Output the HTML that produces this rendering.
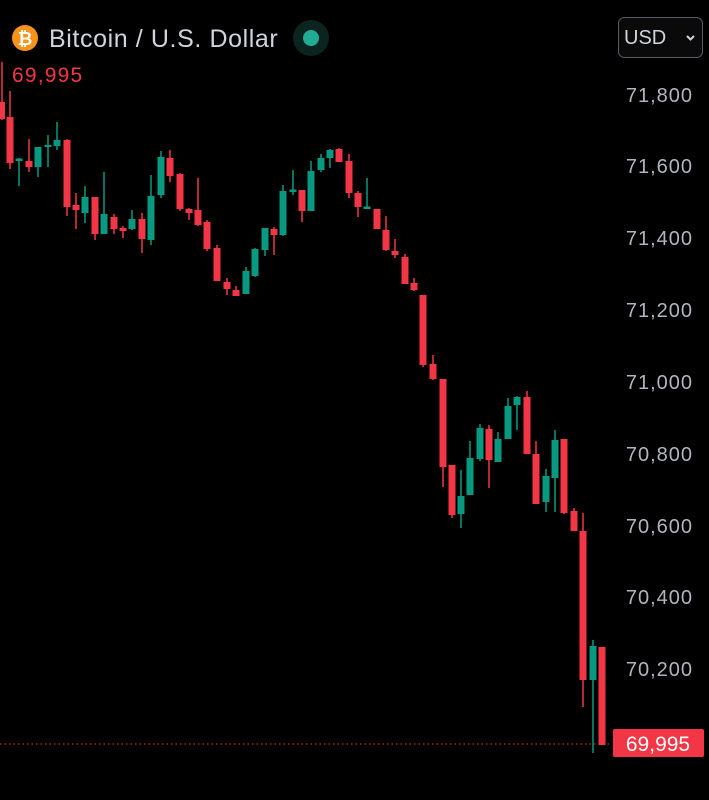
<!DOCTYPE html>
<html><head><meta charset="utf-8"><style>
html,body{margin:0;padding:0;background:#000;width:709px;height:800px;overflow:hidden;font-family:"Liberation Sans",sans-serif}
</style></head><body>
<svg width="709" height="800" viewBox="0 0 709 800" xmlns="http://www.w3.org/2000/svg" style="display:block">
<rect width="709" height="800" fill="#000"/>
<!-- header -->
<circle cx="25" cy="38" r="13" fill="#f7931a"/>
<text x="25" y="45" font-size="18" font-weight="bold" fill="#fff" text-anchor="middle" font-family="Liberation Sans, sans-serif">₿</text>
<text x="49" y="47" font-size="25" fill="#d1d4dc" letter-spacing="0.6" font-family="Liberation Sans, sans-serif">Bitcoin / U.S. Dollar</text>
<circle cx="311" cy="38" r="18" fill="#0c2420"/>
<circle cx="311" cy="38" r="8" fill="#22ab94"/>
<rect x="618.5" y="17.5" width="84" height="40" rx="6" fill="#0a0a0a" stroke="#5a5d66"/>
<text x="624" y="44" font-size="20" fill="#d1d4dc">USD</text>
<path d="M687 36 l3.5 3.5 l3.5 -3.5" stroke="#d1d4dc" stroke-width="2" fill="none"/>
<!-- top-left price -->
<text x="12" y="82" font-size="21" fill="#f23645" letter-spacing="1.2">69,995</text>
<!-- axis labels -->
<g font-size="20" fill="#b2b5be" text-anchor="end" letter-spacing="1">
<text x="693" y="102">71,800</text>
<text x="693" y="173">71,600</text>
<text x="693" y="245">71,400</text>
<text x="693" y="317">71,200</text>
<text x="693" y="389">71,000</text>
<text x="693" y="461">70,800</text>
<text x="693" y="533">70,600</text>
<text x="693" y="604">70,400</text>
<text x="693" y="676">70,200</text>
</g>
<line x1="0" y1="744" x2="612" y2="744" stroke="#f23645" stroke-width="1" stroke-dasharray="1.5 3"/>
<rect x="613" y="729" width="91" height="28" rx="2" fill="#f23645"/>
<text x="658" y="751" font-size="21" fill="#fff" text-anchor="middle">69,995</text>
<!-- red candles -->
<g fill="#f23645" stroke="#f23645" stroke-width="1.5">
<line x1="2" y1="62" x2="2" y2="120"/><rect x="-2" y="102" width="7" height="17" stroke="none"/>
<line x1="10" y1="91" x2="10" y2="169"/><rect x="6.5" y="117" width="7" height="46" stroke="none"/>
<line x1="29" y1="139" x2="29" y2="172"/><rect x="25.5" y="161" width="7" height="6" stroke="none"/>
<line x1="67" y1="139" x2="67" y2="216"/><rect x="63.5" y="140" width="7" height="67" stroke="none"/>
<line x1="76" y1="193" x2="76" y2="229"/><rect x="72.5" y="205" width="7" height="5" stroke="none"/>
<line x1="95" y1="197" x2="95" y2="240"/><rect x="91.5" y="197" width="7" height="37" stroke="none"/>
<line x1="114" y1="214" x2="114" y2="234"/><rect x="110.5" y="217" width="7" height="12" stroke="none"/>
<line x1="123" y1="226" x2="123" y2="238"/><rect x="119.5" y="228" width="7" height="3" stroke="none"/>
<line x1="142" y1="213" x2="142" y2="253"/><rect x="138.5" y="219" width="7" height="20" stroke="none"/>
<line x1="170" y1="150" x2="170" y2="182"/><rect x="166.5" y="158" width="7" height="18" stroke="none"/>
<line x1="180" y1="173" x2="180" y2="211"/><rect x="176.5" y="174" width="7" height="35" stroke="none"/>
<line x1="189" y1="208" x2="189" y2="220"/><rect x="185.5" y="209" width="7" height="4" stroke="none"/>
<line x1="198" y1="178" x2="198" y2="226"/><rect x="194.5" y="210" width="7" height="15" stroke="none"/>
<line x1="207" y1="220" x2="207" y2="251"/><rect x="203.5" y="222" width="7" height="27" stroke="none"/>
<line x1="217" y1="245" x2="217" y2="281"/><rect x="213.5" y="248" width="7" height="33" stroke="none"/>
<line x1="227" y1="278" x2="227" y2="295"/><rect x="223.5" y="282" width="7" height="7" stroke="none"/>
<line x1="236" y1="286" x2="236" y2="296"/><rect x="232.5" y="290" width="7" height="6" stroke="none"/>
<line x1="274" y1="227" x2="274" y2="255"/><rect x="270.5" y="229" width="7" height="6" stroke="none"/>
<line x1="302" y1="190" x2="302" y2="222"/><rect x="298.5" y="190" width="7" height="21" stroke="none"/>
<line x1="339" y1="148" x2="339" y2="162"/><rect x="335.5" y="149" width="7" height="13" stroke="none"/>
<line x1="349" y1="154" x2="349" y2="198"/><rect x="345.5" y="161" width="7" height="32" stroke="none"/>
<line x1="358" y1="191" x2="358" y2="217"/><rect x="354.5" y="193" width="7" height="14" stroke="none"/>
<line x1="377" y1="209" x2="377" y2="229"/><rect x="373.5" y="209" width="7" height="20" stroke="none"/>
<line x1="386" y1="216" x2="386" y2="251"/><rect x="382.5" y="230" width="7" height="20" stroke="none"/>
<line x1="395" y1="239" x2="395" y2="258"/><rect x="391.5" y="251" width="7" height="4" stroke="none"/>
<line x1="405" y1="254" x2="405" y2="284"/><rect x="401.5" y="257" width="7" height="27" stroke="none"/>
<line x1="414" y1="278" x2="414" y2="291"/><rect x="410.5" y="283" width="7" height="7" stroke="none"/>
<line x1="423" y1="295" x2="423" y2="367"/><rect x="419.5" y="295" width="7" height="70" stroke="none"/>
<line x1="433" y1="355" x2="433" y2="380"/><rect x="429.5" y="364" width="7" height="15" stroke="none"/>
<line x1="443" y1="379" x2="443" y2="487"/><rect x="439.5" y="379" width="7" height="88" stroke="none"/>
<line x1="452" y1="465" x2="452" y2="518"/><rect x="448.5" y="465" width="7" height="50" stroke="none"/>
<line x1="489" y1="425" x2="489" y2="488"/><rect x="485.5" y="429" width="7" height="31" stroke="none"/>
<line x1="527" y1="391" x2="527" y2="454"/><rect x="523.5" y="397" width="7" height="57" stroke="none"/>
<line x1="536" y1="441" x2="536" y2="504"/><rect x="532.5" y="454" width="7" height="50" stroke="none"/>
<line x1="564" y1="439" x2="564" y2="514"/><rect x="560.5" y="439" width="7" height="74" stroke="none"/>
<line x1="574" y1="508" x2="574" y2="531"/><rect x="570.5" y="511" width="7" height="20" stroke="none"/>
<line x1="583" y1="513" x2="583" y2="707"/><rect x="579.5" y="531" width="7" height="149" stroke="none"/>
<line x1="602" y1="647" x2="602" y2="745"/><rect x="598.5" y="647" width="7" height="98" stroke="none"/>
</g>
<!-- green candles -->
<g fill="#089981" stroke="#089981" stroke-width="1.5">
<line x1="19" y1="158" x2="19" y2="186"/><rect x="15.5" y="158.5" width="7" height="2.5" stroke="none"/>
<line x1="38" y1="147" x2="38" y2="177"/><rect x="34.5" y="147" width="7" height="20" stroke="none"/>
<line x1="48" y1="135" x2="48" y2="167"/><rect x="44.5" y="145" width="7" height="2" stroke="none"/>
<line x1="57" y1="122" x2="57" y2="150"/><rect x="53.5" y="140" width="7" height="6" stroke="none"/>
<line x1="85" y1="186" x2="85" y2="223"/><rect x="81.5" y="197" width="7" height="16" stroke="none"/>
<line x1="104" y1="172" x2="104" y2="234"/><rect x="100.5" y="214" width="7" height="20" stroke="none"/>
<line x1="132" y1="210" x2="132" y2="230"/><rect x="128.5" y="219" width="7" height="10" stroke="none"/>
<line x1="151" y1="175" x2="151" y2="245"/><rect x="147.5" y="196" width="7" height="44" stroke="none"/>
<line x1="161" y1="151" x2="161" y2="198"/><rect x="157.5" y="157" width="7" height="38" stroke="none"/>
<line x1="246" y1="267" x2="246" y2="294"/><rect x="242.5" y="271" width="7" height="23" stroke="none"/>
<line x1="255" y1="248" x2="255" y2="277"/><rect x="251.5" y="249" width="7" height="27" stroke="none"/>
<line x1="265" y1="228" x2="265" y2="256"/><rect x="261.5" y="228" width="7" height="22" stroke="none"/>
<line x1="283" y1="185" x2="283" y2="236"/><rect x="279.5" y="191" width="7" height="44" stroke="none"/>
<line x1="293" y1="170" x2="293" y2="195"/><rect x="289.5" y="189.5" width="7" height="2.5" stroke="none"/>
<line x1="311" y1="161" x2="311" y2="211"/><rect x="307.5" y="171" width="7" height="40" stroke="none"/>
<line x1="321" y1="154" x2="321" y2="172"/><rect x="317.5" y="158" width="7" height="12" stroke="none"/>
<line x1="330" y1="149" x2="330" y2="168"/><rect x="326.5" y="150" width="7" height="8" stroke="none"/>
<line x1="367" y1="178" x2="367" y2="209"/><rect x="363.5" y="206.5" width="7" height="2.5" stroke="none"/>
<line x1="461" y1="470" x2="461" y2="528"/><rect x="457.5" y="496" width="7" height="18" stroke="none"/>
<line x1="470" y1="441" x2="470" y2="495"/><rect x="466.5" y="458" width="7" height="37" stroke="none"/>
<line x1="480" y1="424" x2="480" y2="461"/><rect x="476.5" y="428" width="7" height="31" stroke="none"/>
<line x1="498" y1="432" x2="498" y2="462"/><rect x="494.5" y="439" width="7" height="23" stroke="none"/>
<line x1="508" y1="398" x2="508" y2="439"/><rect x="504.5" y="406" width="7" height="33" stroke="none"/>
<line x1="517" y1="396" x2="517" y2="430"/><rect x="513.5" y="397" width="7" height="8" stroke="none"/>
<line x1="546" y1="469" x2="546" y2="512"/><rect x="542.5" y="476" width="7" height="26" stroke="none"/>
<line x1="555" y1="430" x2="555" y2="512"/><rect x="551.5" y="440" width="7" height="38" stroke="none"/>
<line x1="593" y1="640" x2="593" y2="753"/><rect x="589.5" y="646" width="7" height="34" stroke="none"/>
</g>
</svg>
</body></html>
